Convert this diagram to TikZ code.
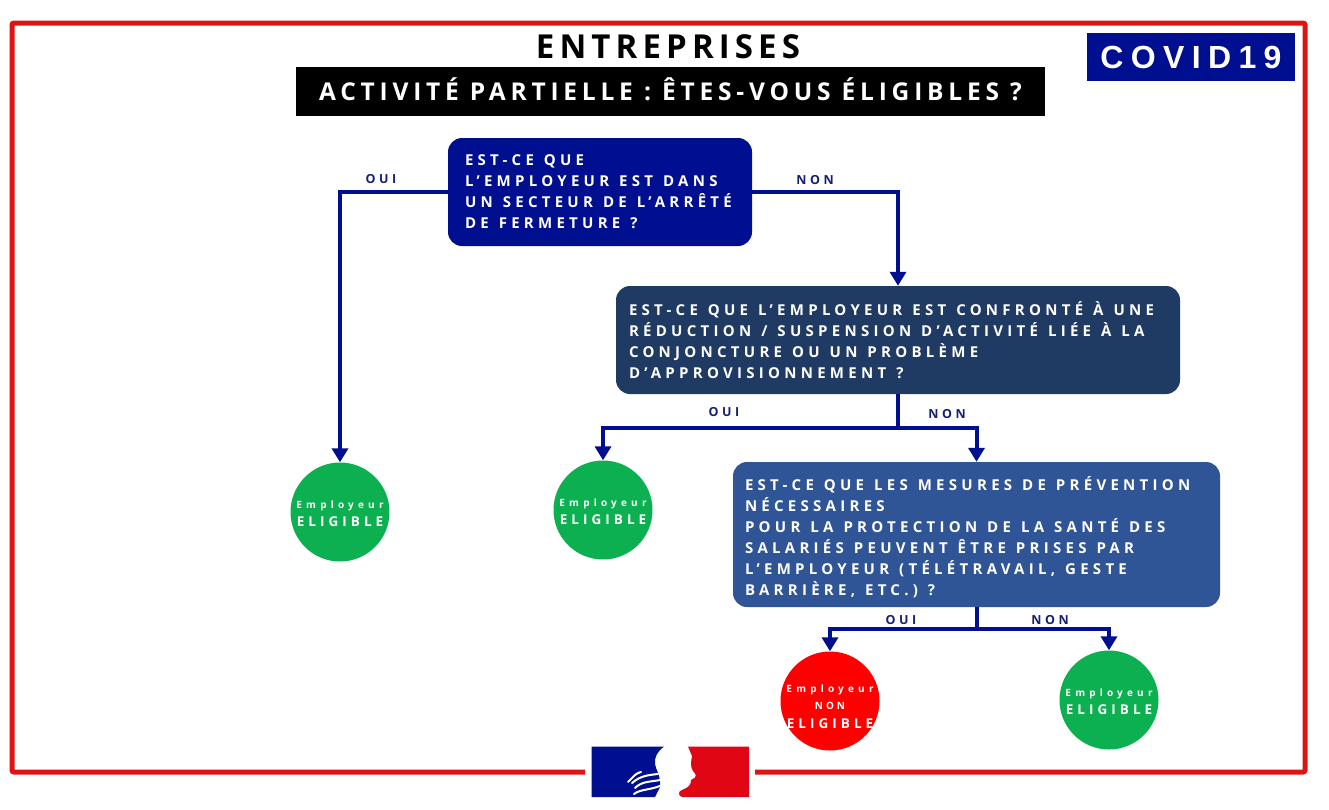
\documentclass[tikz,border=0pt]{standalone}
\usepackage{fontspec}
\usetikzlibrary{arrows.meta}
\setmainfont{Open Sans}
\newfontfamily\titlefont[LetterSpace=15.5]{Open Sans}
\newfontfamily\subfont[LetterSpace=19.5]{Open Sans}
\newfontfamily\flowfont[LetterSpace=28.5]{Open Sans}
\newfontfamily\circfont[LetterSpace=30]{Open Sans}
\newfontfamily\emplfont[LetterSpace=42]{Open Sans}
\newfontfamily\covidfont[LetterSpace=23]{Liberation Sans}
\definecolor{navyflow}{HTML}{000F8F}
\definecolor{darkflow}{HTML}{1F3A63}
\definecolor{midflow}{HTML}{2F5597}
\definecolor{labelflow}{HTML}{16206E}
\definecolor{greenflow}{HTML}{0DB050}
\definecolor{redframe}{HTML}{DE1414}
\definecolor{redflag}{HTML}{E10613}
\tikzset{
  flowbox/.style={fill=#1,rounded corners=14pt,text=white,align=flush left,inner sep=0pt,font=\flowfont\fontsize{15}{21}\bfseries,execute at begin node={\spaceskip=10pt\relax}},
  flowline/.style={draw=navyflow,line width=4pt,-{Triangle[length=14pt,width=16pt]}},
  flowstem/.style={draw=navyflow,line width=4pt},
  flowlabel/.style={text=labelflow,font=\flowfont\fontsize{12.5}{14}\bfseries},
  result/.style={circle,fill=#1,minimum size=99pt,inner sep=-8pt,text=white,align=center},
  handline/.style={white,line width=2pt,line cap=round},
}
\newcommand{\empl}{{\emplfont\fontsize{10}{12}\bfseries Employeur}}
\newcommand{\elig}{{\circfont\fontsize{13.5}{16}\bfseries ELIGIBLE}}
\begin{document}
\begin{tikzpicture}[x=1pt,y=-1pt]
  \useasboundingbox (0,0) rectangle (1329,809);
  % frame
  \draw[redframe,line width=5pt,rounded corners=2pt] (585,772) -- (12,772) -- (12,23) -- (1305,23) -- (1305,772) -- (755,772);
  % header
  \node[font=\titlefont\fontsize{33}{36}\bfseries] (title) at (668,47) {ENTREPRISES};
  \node[fill=black,text=white,minimum width=749pt,minimum height=49pt,inner sep=0pt,font=\subfont\fontsize{24.5}{28}\bfseries] (subtitle) at (670.5,91.5) {\raisebox{4pt}{ACTIVITÉ PARTIELLE : ÊTES-VOUS ÉLIGIBLES ?}};
  \node[fill=navyflow,text=white,minimum width=208pt,minimum height=48pt,inner sep=0pt,font=\covidfont\fontsize{32}{36}\bfseries] (covid) at (1191,57) {COVID19\hspace{21pt}};
  % questions
  \node[flowbox=navyflow,minimum width=304pt,minimum height=108pt,text width=270pt] (q1) at (600,192) {EST-CE QUE\\L’EMPLOYEUR EST DANS\\UN SECTEUR DE L’ARRÊTÉ\\DE FERMETURE ?};
  \node[flowbox=darkflow,minimum width=564pt,minimum height=108pt,text width=538pt] (q2) at (898,340) {EST-CE QUE L’EMPLOYEUR EST CONFRONTÉ À UNE\\RÉDUCTION / SUSPENSION D’ACTIVITÉ LIÉE À LA\\CONJONCTURE OU UN PROBLÈME\\D’APPROVISIONNEMENT ?};
  \node[flowbox=midflow,minimum width=487pt,minimum height=145pt,text width=463pt] (q3) at (976.5,534.5) {\rule{0pt}{18.5pt}EST-CE QUE LES MESURES DE PRÉVENTION\\NÉCESSAIRES\\POUR LA PROTECTION DE LA SANTÉ DES\\SALARIÉS PEUVENT ÊTRE PRISES PAR\\L’EMPLOYEUR (TÉLÉTRAVAIL, GESTE\\BARRIÈRE, ETC.) ?};
  % results
  \node[result=greenflow] (e1) at (340,512) {\rule{0pt}{11pt}\empl\\[5pt]\elig};
  \node[result=greenflow] (e2) at (603,510) {\rule{0pt}{11pt}\empl\\[5pt]\elig};
  \node[result=red] (e3) at (830,701) {\rule{0pt}{19pt}\empl\\[5pt]{\circfont\fontsize{10}{12}\bfseries NON}\\[7pt]\elig};
  \node[result=greenflow] (e4) at (1109,700) {\rule{0pt}{11pt}\empl\\[5pt]\elig};
  % connectors
  \coordinate (split2) at (898,428);
  \coordinate (split3) at (976.5,629);
  \draw[flowline] (q1.west) -| (e1.north);
  \draw[flowline] (q1.east) -| (q2.north);
  \draw[flowstem] (q2.south) -- (split2);
  \draw[flowline] (split2) -| (e2.north);
  \draw[flowline] (split2) -| (q3.north);
  \draw[flowstem] (q3.south) -- (split3);
  \draw[flowline] (split3) -| (e3.north);
  \draw[flowline] (split3) -| (e4.north);
  % branch labels
  \node[flowlabel] (l1) at (381,179) {OUI};
  \node[flowlabel] (l2) at (815,180) {NON};
  \node[flowlabel] (l3) at (724,412) {OUI};
  \node[flowlabel] (l4) at (947,414) {NON};
  \node[flowlabel] (l5) at (901,620) {OUI};
  \node[flowlabel] (l6) at (1050,620) {NON};
  % logo
  \fill[navyflow] (591.5,746.5) -- (664,746.5) .. controls (657,752) and (654,758) .. (655,764) .. controls (656,770) and (660,775) .. (660,782) -- (660,787) -- (655,797) -- (591.5,797) -- cycle;
  \fill[redflag] (688,746.5) -- (749,746.5) -- (749,797) -- (682,797) .. controls (678,796) and (678,791) .. (682,790) .. controls (686,788) and (691,787) .. (691,780) .. controls (697,777) and (697,775) .. (693,771) .. controls (690,766) and (691,762) .. (692,756) -- cycle;
  \draw[handline] (628,782) .. controls (634,776) and (636,773) .. (641,772);
  \draw[handline] (632,783) .. controls (640,776) and (648,775) .. (658,774);
  \draw[handline] (635,788) .. controls (642,781) and (650,782) .. (660,780);
  \draw[handline] (634,794) .. controls (640,789) and (652,790) .. (662,785);
\end{tikzpicture}
\end{document}
